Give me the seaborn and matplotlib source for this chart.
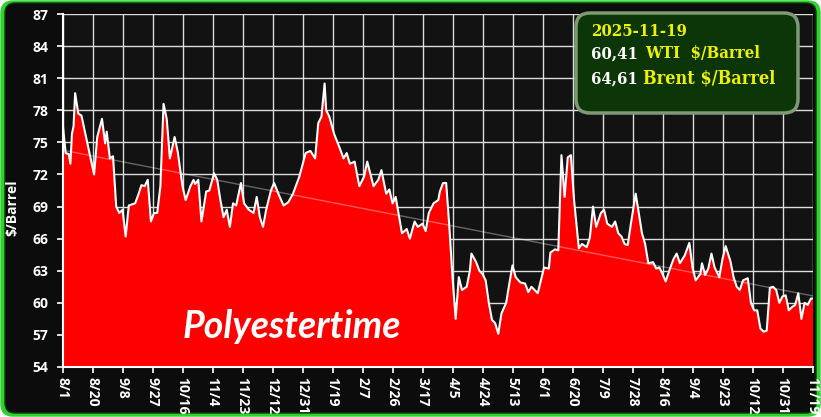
import matplotlib
matplotlib.use("Agg")
import numpy as np
import pandas as pd
import seaborn as sns
import matplotlib.pyplot as plt
from matplotlib.patches import FancyBboxPatch
from matplotlib.transforms import IdentityTransform

# ---------------- data ----------------
start_date = "2024-08-01"
day_offsets = [0, 2, 4, 5, 6, 7, 8, 10, 12, 20, 22, 25, 27, 28, 30, 32, 34, 36, 38, 40,
               42, 46, 48, 50, 52, 54, 56, 58, 60, 62, 64, 66, 68, 71, 73, 76, 78, 81, 83, 84,
               86, 88, 91, 93, 96, 98, 100, 102, 104, 106, 108, 110, 113, 115, 118, 121, 123, 125, 127, 129,
               132, 134, 137, 140, 143, 146, 150, 154, 157, 160, 162, 164, 166, 167, 169, 172, 176, 178, 180, 182,
               185, 188, 191, 193, 197, 200, 202, 205, 207, 209, 211, 215, 218, 220, 223, 225, 228, 230, 232, 235,
               238, 239, 241, 243, 245, 247, 249, 251, 253, 256, 258, 259, 262, 264, 266, 268, 270, 272, 274, 276,
               278, 281, 283, 285, 287, 290, 293, 295, 297, 299, 301, 303, 305, 308, 309, 312, 314, 316, 318, 320,
               322, 324, 327, 329, 332, 334, 336, 338, 341, 343, 345, 348, 350, 352, 354, 356, 358, 360, 363, 364,
               367, 369, 371, 374, 376, 378, 380, 382, 385, 387, 389, 391, 394, 397, 399, 401, 404, 405, 407, 409,
               411, 413, 416, 418, 420, 423, 425, 427, 429, 431, 434, 436, 438, 440, 442, 444, 446, 448, 450, 452,
               454, 456, 458, 460, 462, 464, 466, 468, 470, 472, 474, 475]
wti_price = [76.9, 74.0, 73.9, 73.0, 75.8, 76.5, 79.6, 77.7, 77.5, 72.0, 75.5, 77.2, 74.9, 76.0, 73.5, 73.7, 69.0, 68.4, 68.7, 66.2,
             69.1, 69.3, 70.1, 71.0, 70.9, 71.5, 67.6, 68.4, 68.4, 70.9, 78.6, 77.2, 73.5, 75.5, 74.1, 70.9, 69.6, 70.9, 71.5, 71.1,
             71.5, 67.6, 70.4, 70.5, 72.1, 71.5, 69.6, 68.0, 68.7, 67.1, 69.3, 69.1, 71.2, 69.3, 68.7, 68.4, 69.9, 68.0, 67.1, 68.7,
             70.5, 71.2, 70.1, 69.1, 69.4, 70.2, 71.8, 74.0, 74.2, 73.5, 76.8, 77.4, 80.5, 78.0, 77.4, 75.8, 74.3, 73.5, 74.0, 73.0,
             73.2, 70.9, 71.8, 73.2, 70.9, 71.5, 72.4, 70.2, 70.6, 69.3, 69.9, 66.5, 66.9, 66.0, 67.6, 67.1, 67.4, 66.7, 68.4, 69.3,
             69.6, 70.4, 71.2, 71.2, 67.1, 62.4, 58.5, 62.4, 61.2, 61.5, 63.0, 64.6, 63.8, 63.0, 62.7, 62.1, 60.0, 58.4, 58.1, 57.1,
             59.0, 60.0, 61.8, 63.5, 62.4, 61.9, 61.8, 61.0, 61.5, 61.2, 60.9, 62.1, 63.3, 63.2, 64.7, 65.0, 64.9, 73.8, 69.9, 73.6,
             73.8, 69.6, 65.1, 65.5, 65.2, 66.1, 69.0, 67.1, 68.4, 68.7, 67.4, 67.1, 67.6, 66.5, 66.2, 65.5, 65.4, 67.4, 70.2, 69.3,
             66.5, 65.5, 63.7, 63.8, 63.2, 63.3, 62.7, 62.0, 63.3, 64.1, 64.6, 63.7, 64.4, 65.6, 63.3, 62.1, 62.7, 63.7, 62.6, 63.2,
             64.6, 63.3, 62.4, 64.1, 65.3, 63.9, 62.4, 61.5, 61.2, 62.1, 62.3, 60.0, 59.3, 59.3, 57.6, 57.3, 57.4, 61.4, 61.5, 61.2,
             60.0, 60.6, 60.7, 59.3, 59.6, 59.8, 60.9, 58.5, 60.0, 59.8, 60.4, 60.4]
tick_labels = ["8/1", "8/20", "9/8", "9/27", "10/16", "11/4", "11/23", "12/12", "12/31",
               "1/19", "2/7", "2/26", "3/17", "4/5", "4/24", "5/13", "6/1", "6/20", "7/9",
               "7/28", "8/16", "9/4", "9/23", "10/12", "10/31", "11/19"]
tick_step_days = 19
y_min, y_max, y_step = 54, 87, 3
info_date = "2025-11-19"
wti_last = "60,41"
brent_last = "64,61"
watermark = "Polyestertime"

df = pd.DataFrame({"day": day_offsets, "price": wti_price})

# ---------------- figure ----------------
sns.set_theme(style="dark")
plt.rcParams["font.family"] = ["Open Sans", "DejaVu Sans"]

W, H = 821, 417
fig = plt.figure(figsize=(W / 100, H / 100), dpi=100)
fig.patch.set_facecolor("white")

outer = FancyBboxPatch((1, 1), W - 2, H - 2, boxstyle="round,pad=0,rounding_size=12",
                       transform=IdentityTransform(), facecolor="#2fd12f", edgecolor="#2fd12f",
                       lw=1, zorder=-3)
inner = FancyBboxPatch((5, 4), W - 10, H - 7, boxstyle="round,pad=0,rounding_size=10",
                       transform=IdentityTransform(), facecolor="#0c0c0c", edgecolor="#0a3a0a",
                       lw=1, zorder=-2)
fig.patches.extend([outer, inner])

ax = fig.add_axes([62.5 / W, 1 - 367 / H, 750 / W, 353 / H])
ax.set_zorder(1)
ax.set_facecolor("#121212")

ax.fill_between(df["day"], df["price"], y_min, color="#ff0000", lw=0, zorder=2)
sns.lineplot(data=df, x="day", y="price", color="white", lw=1.5, ax=ax, zorder=3)
sns.regplot(data=df, x="day", y="price", scatter=False, ci=None, ax=ax,
            line_kws=dict(color="white", alpha=0.35, lw=1.0, zorder=4))

ax.set_xlim(0, df["day"].max())
ax.set_ylim(y_min, y_max)
ax.set_yticks(np.arange(y_min, y_max + 1, y_step))
ax.set_xticks(np.arange(0, df["day"].max() + 1, tick_step_days))
ax.set_xticklabels(tick_labels, rotation=270)
ax.set_axisbelow(True)
ax.grid(True, color="#dcdcdc", lw=1.0)
ax.tick_params(axis="both", colors="white", labelcolor="white", labelsize=10,
               length=4, width=1.2, direction="out", bottom=True, left=True)
ax.tick_params(axis="y", pad=6)
ax.tick_params(axis="x", pad=3)
for lab in ax.get_xticklabels() + ax.get_yticklabels():
    lab.set_fontweight("bold")
ax.set_xlabel("")
ax.set_ylabel("$/Barrel", color="white", fontweight="bold", fontsize=10)
ax.yaxis.set_label_coords(-0.057, 0.45)
for s in ["top", "right"]:
    ax.spines[s].set_visible(False)
for s in ["left", "bottom"]:
    ax.spines[s].set_color("white")
    ax.spines[s].set_linewidth(1.5)

# watermark
fig.text(183 / W, 1 - 326 / H, watermark, color="white", fontsize=27, fontweight="bold",
         style="italic", family=["Lato", "DejaVu Sans"], va="center", ha="left", zorder=10)

# info box
box = FancyBboxPatch((576, H - 113), 222, 100, boxstyle="round,pad=0,rounding_size=14",
                     transform=IdentityTransform(), facecolor="#0d3608", edgecolor="#7d9a74",
                     lw=2.5, zorder=9)
fig.patches.append(box)
serif = ["DejaVu Serif"]
yellow = "#eef200"
kw = dict(fontweight="bold", family=serif, va="center", ha="left", zorder=10, fontstretch="condensed")
fig.text(591 / W, 1 - 32 / H, info_date, color=yellow, fontsize=12, **kw)
fig.text(591 / W, 1 - 54 / H, wti_last, color="white", fontsize=12, **kw)
fig.text(645 / W, 1 - 54 / H, "WTI  $/Barrel", color=yellow, fontsize=12, **kw)
fig.text(591 / W, 1 - 79 / H, brent_last, color="white", fontsize=12, **kw)
fig.text(643 / W, 1 - 79 / H, "Brent $/Barrel", color=yellow, fontsize=13, **kw)

fig.savefig("out.png", dpi=100, facecolor=fig.get_facecolor())
